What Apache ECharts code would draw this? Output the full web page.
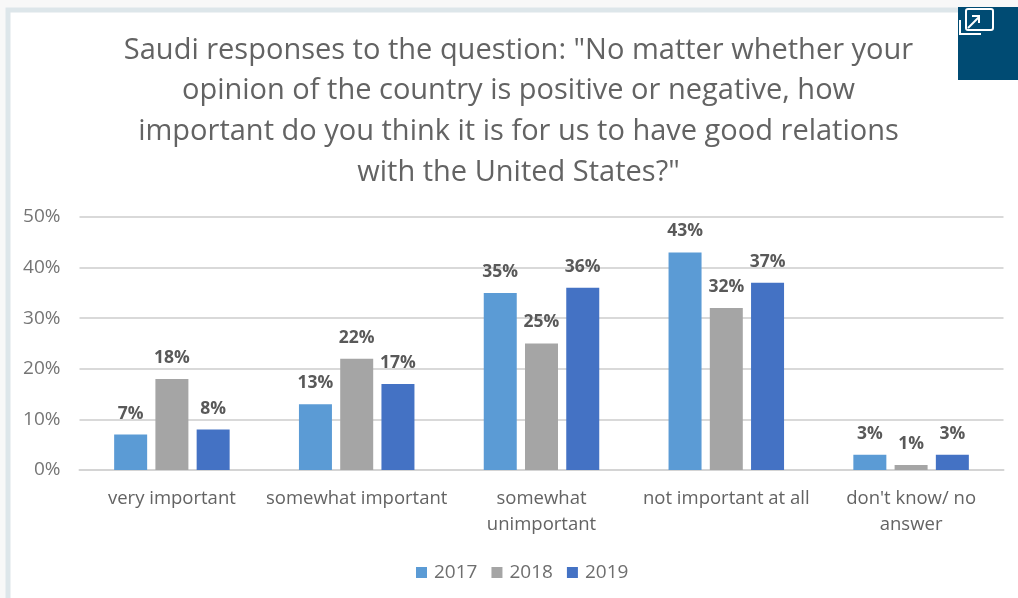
<!DOCTYPE html>
<html>
<head>
<meta charset="utf-8">
<style>html,body{margin:0;padding:0;background:#f8f8f8}#chart{width:1018px;height:598px}</style>
<script src="https://cdn.jsdelivr.net/npm/echarts@6/dist/echarts.min.js"></script>
</head>
<body>
<div id="chart"></div>
<script>
const categories = ['very important', 'somewhat important', 'somewhat\nunimportant', 'not important at all', "don't know/ no\nanswer"];
const years = ['2017', '2018', '2019'];
const values2017 = [7, 13, 35, 43, 3];
const values2018 = [18, 22, 25, 32, 1];
const values2019 = [8, 17, 36, 37, 3];
const yearColors = ['#5b9bd5', '#a5a5a5', '#4472c4'];
const titleText = 'Saudi responses to the question: "No matter whether your\nopinion of the country is positive or negative, how\nimportant do you think it is for us to have good relations\nwith the United States?"';
const fontFamily = '"Open Sans", "Noto Sans", sans-serif';

const chart = echarts.init(document.getElementById('chart'), null, {renderer: 'canvas'});

const makeSeries = (name, data, color) => ({
  name, type: 'bar', data, barWidth: 33, barGap: '25%',
  itemStyle: {color},
  label: {
    show: true, position: 'top', distance: 12,
    formatter: '{c}%', color: '#595959', fontSize: 17.5, fontWeight: 'bold', fontFamily
  }
});

chart.setOption({
  backgroundColor: '#f8f8f8',
  animation: false,
  title: {
    text: titleText, left: 513.5, top: 25, textAlign: 'center',
    textStyle: {color: '#636363', fontSize: 29, fontWeight: 'normal', lineHeight: 40.7, fontFamily}
  },
  legend: {
    data: years, left: 411, top: 558, itemWidth: 11, itemHeight: 11, itemGap: 14,
    icon: 'rect',
    textStyle: {color: '#6e6e6e', fontSize: 19, fontFamily, padding: [0, 0, 0, 2]}
  },
  grid: {left: 79.5, right: 14.5, top: 217, bottom: 128},
  xAxis: {
    type: 'category', data: categories,
    axisLine: {lineStyle: {color: '#d4d4d4', width: 2}},
    axisTick: {show: false},
    axisLabel: {color: '#636363', fontSize: 18.5, lineHeight: 26.5, margin: 15, interval: 0, fontFamily}
  },
  yAxis: {
    type: 'value', min: 0, max: 50, interval: 10,
    axisLine: {show: false}, axisTick: {show: false},
    axisLabel: {formatter: '{value}%', color: '#757575', fontSize: 19, margin: 19, fontFamily},
    splitLine: {lineStyle: {color: '#d9d9d9', width: 2}}
  },
  series: [
    makeSeries(years[0], values2017, yearColors[0]),
    makeSeries(years[1], values2018, yearColors[1]),
    makeSeries(years[2], values2019, yearColors[2])
  ],
  graphic: [
    // Card behind the plot; only its top and left edges fall inside the page
    {type: 'rect', z: -10, shape: {x: 8, y: 10, width: 1030, height: 610},
      style: {fill: '#ffffff', stroke: '#dde6ea', lineWidth: 5}},
    // Expand badge in the top-right corner
    {type: 'rect', z: 10, shape: {x: 958, y: 7, width: 60, height: 73}, style: {fill: '#004b73'}},
    {type: 'rect', z: 11, shape: {x: 966, y: 9, width: 27, height: 21, r: 2},
      style: {fill: 'none', stroke: '#ffffff', lineWidth: 2}},
    {type: 'polyline', z: 11, shape: {points: [[960, 20], [960, 34], [981, 34]]},
      style: {fill: 'none', stroke: '#ffffff', lineWidth: 2}},
    {type: 'polyline', z: 11, shape: {points: [[968, 28], [979, 17]]},
      style: {fill: 'none', stroke: '#ffffff', lineWidth: 2}},
    {type: 'polyline', z: 11, shape: {points: [[972, 16], [979, 16], [979, 23]]},
      style: {fill: 'none', stroke: '#ffffff', lineWidth: 2}}
  ]
});
</script>
</body>
</html>
